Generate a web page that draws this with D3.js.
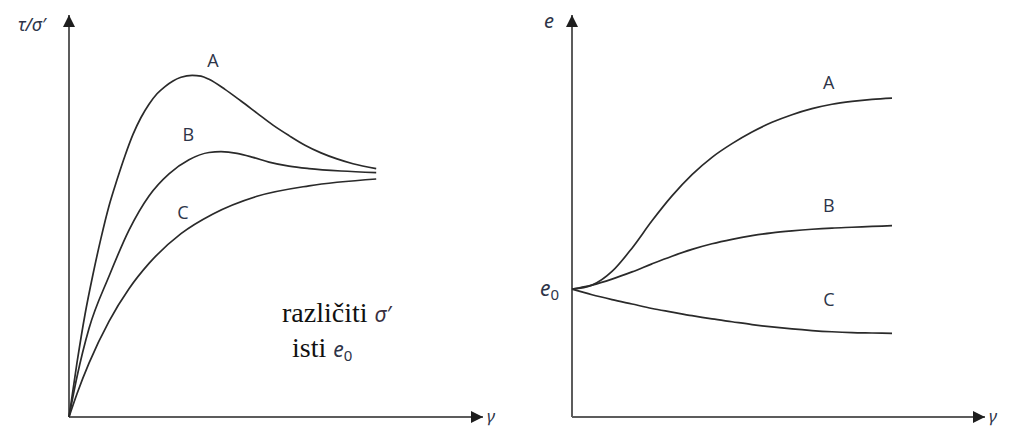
<!DOCTYPE html>
<html>
<head>
<meta charset="utf-8">
<script src="https://cdn.jsdelivr.net/npm/d3@7"></script>
<style>
body { margin: 0; background: #fff; }
</style>
</head>
<body>
<svg id="chart"></svg>
<script>
const width = 1010;
const height = 426;

// left panel: tau/sigma' against gamma (same e0, different sigma')
const gammaA = [0, 2, 4, 6, 8, 10, 12, 14, 16, 18, 20, 22, 24, 26, 28, 30.8, 33, 35, 39, 43, 47, 51, 55, 59, 63, 67, 71, 76.8];
const tauA   = [0, 13.5, 25.5, 35.5, 44.5, 52.5, 59, 65, 70.3, 74.5, 77.8, 80.4, 82.2, 83.6, 84.5, 85, 84.8, 84, 81.5, 78.6, 75.6, 72.6, 70, 67.6, 65.7, 64.2, 63, 61.8];
const gammaB = [0, 2, 5, 10, 15, 20, 25, 30, 35, 38, 42, 46, 50, 55, 60, 68, 76.8];
const tauB   = [0, 10, 22, 35, 46.5, 55, 60.5, 64, 65.8, 66, 65.6, 64.6, 63.4, 62.4, 61.8, 61.2, 60.8];
const gammaC = [0, 2, 5, 10, 15, 20, 28, 36, 47, 60, 76.8];
const tauC   = [0, 5.8, 13.4, 23.8, 31.9, 38.2, 45.6, 50.5, 54.9, 57.5, 59.2];

// right panel: void ratio e against gamma
const e0Level = 31.8;
const gammaE = [0, 5, 10, 15, 20, 25, 30, 35, 40, 45, 50, 55, 60, 65, 70, 75, 80];
const eA = [31.8, 32.8, 36.2, 42, 48.8, 55, 60.3, 64.6, 68, 70.9, 73.3, 75.2, 76.7, 77.8, 78.5, 79, 79.3];
const eB = [31.8, 32.8, 34.3, 36.1, 38.1, 40, 41.7, 43.1, 44.2, 45.1, 45.8, 46.3, 46.7, 47, 47.2, 47.4, 47.6];
const eC = [31.8, 30.4, 29.2, 28.1, 27, 26.1, 25.2, 24.4, 23.7, 23, 22.4, 21.9, 21.5, 21.2, 21, 20.9, 20.8];

const curveNames = ["A", "B", "C"];

const ink = "#2a2a2a";
const axisInk = "#5c5c5c";
const textInk = "#2d3448";

const svg = d3.select("#chart")
  .attr("width", width)
  .attr("height", height);

svg.append("defs").append("marker")
  .attr("id", "arrow")
  .attr("markerUnits", "userSpaceOnUse")
  .attr("viewBox", "0 0 12 12")
  .attr("refX", 12).attr("refY", 6)
  .attr("markerWidth", 12).attr("markerHeight", 12)
  .attr("orient", "auto")
  .append("path")
  .attr("d", "M0,0 L12,6 L0,12 Z")
  .attr("fill", "#1e1e1e");

const xL = d3.scaleLinear().domain([0, 100]).range([69, 469]);
const yL = d3.scaleLinear().domain([0, 100]).range([417, 15]);
const xR = d3.scaleLinear().domain([0, 100]).range([572, 972]);
const yR = d3.scaleLinear().domain([0, 100]).range([417, 15]);

function drawAxes(x, y, xEnd) {
  const g = svg.append("g");
  g.append("line")
    .attr("x1", x(0)).attr("y1", y(0))
    .attr("x2", x(0)).attr("y2", y.range()[1])
    .attr("stroke", axisInk).attr("stroke-width", 2)
    .attr("marker-end", "url(#arrow)");
  g.append("line")
    .attr("x1", x(0)).attr("y1", y(0))
    .attr("x2", xEnd).attr("y2", y(0))
    .attr("stroke", axisInk).attr("stroke-width", 2)
    .attr("marker-end", "url(#arrow)");
}

drawAxes(xL, yL, 483);
drawAxes(xR, yR, 985);

function drawCurve(x, y, gs, vs) {
  const pts = gs.map((g, i) => [g, vs[i]]);
  svg.append("path")
    .datum(pts)
    .attr("fill", "none")
    .attr("stroke", ink)
    .attr("stroke-width", 1.7)
    .attr("d", d3.line()
      .x(d => x(d[0]))
      .y(d => y(d[1]))
      .curve(d3.curveMonotoneX));
}

drawCurve(xL, yL, gammaA, tauA);
drawCurve(xL, yL, gammaB, tauB);
drawCurve(xL, yL, gammaC, tauC);
drawCurve(xR, yR, gammaE, eA);
drawCurve(xR, yR, gammaE, eB);
drawCurve(xR, yR, gammaE, eC);

// curve letters
const labelFont = "'Open Sans', 'Noto Sans', sans-serif";
const leftLabelPos = [[36, 87], [29.8, 68.7], [28.5, 49.3]];
const rightLabelPos = [[64.2, 81.6], [64.2, 51], [64.2, 27.6]];
function drawLetters(x, y, pos) {
  svg.append("g").selectAll("text")
    .data(curveNames)
    .join("text")
    .attr("x", (d, i) => x(pos[i][0]))
    .attr("y", (d, i) => y(pos[i][1]))
    .attr("text-anchor", "middle")
    .attr("font-family", labelFont)
    .attr("font-size", 18)
    .attr("fill", textInk)
    .text(d => d);
}
drawLetters(xL, yL, leftLabelPos);
drawLetters(xR, yR, rightLabelPos);

// axis titles
const italic = "'Noto Sans', 'DejaVu Sans', sans-serif";
svg.append("text")
  .attr("x", 18).attr("y", 31)
  .attr("font-family", italic).attr("font-style", "italic")
  .attr("font-size", 18).attr("fill", textInk)
  .text("τ/σ′");
svg.append("text")
  .attr("x", 544).attr("y", 28)
  .attr("font-family", italic).attr("font-style", "italic")
  .attr("font-size", 20).attr("fill", textInk)
  .text("e");
[[487, yL], [989, yR]].forEach(([tx, y]) => {
  svg.append("text")
    .attr("x", tx).attr("y", y(0) + 5)
    .attr("font-family", italic).attr("font-style", "italic")
    .attr("font-size", 17).attr("fill", textInk)
    .text("γ");
});

// e0 tick on the right y axis
const e0Axis = svg.append("g")
  .attr("transform", `translate(${xR(0)},0)`)
  .call(d3.axisLeft(yR).tickValues([e0Level]).tickSize(0).tickPadding(13).tickFormat(""));
e0Axis.select(".domain").remove();
const e0Text = e0Axis.select(".tick text")
  .attr("font-family", italic)
  .attr("font-style", "italic")
  .attr("font-size", 21)
  .attr("fill", textInk)
  .attr("dy", "0.3em");
e0Text.append("tspan").text("e");
e0Text.append("tspan").attr("font-size", 15).attr("font-style", "normal").attr("dy", "0.3em").text("0");

// annotation in the left panel
const serif = "'Liberation Serif', 'Times New Roman', serif";
const note = svg.append("g").attr("fill", "#111");
const l1 = note.append("text")
  .attr("x", 282).attr("y", 322)
  .attr("font-family", serif)
  .attr("font-size", 28);
l1.append("tspan").text("različiti ");
l1.append("tspan")
  .attr("font-family", italic).attr("font-style", "italic")
  .attr("font-size", 21).attr("fill", "#3a3040")
  .text("σ′");
const l2 = note.append("text")
  .attr("x", 292).attr("y", 357)
  .attr("font-family", serif)
  .attr("font-size", 28);
l2.append("tspan").text("isti ");
l2.append("tspan")
  .attr("font-family", italic).attr("font-style", "italic")
  .attr("font-size", 21).attr("fill", textInk)
  .text("e");
l2.append("tspan")
  .attr("font-family", italic)
  .attr("font-size", 15).attr("fill", textInk).attr("dy", 4)
  .text("0");
</script>
</body>
</html>
